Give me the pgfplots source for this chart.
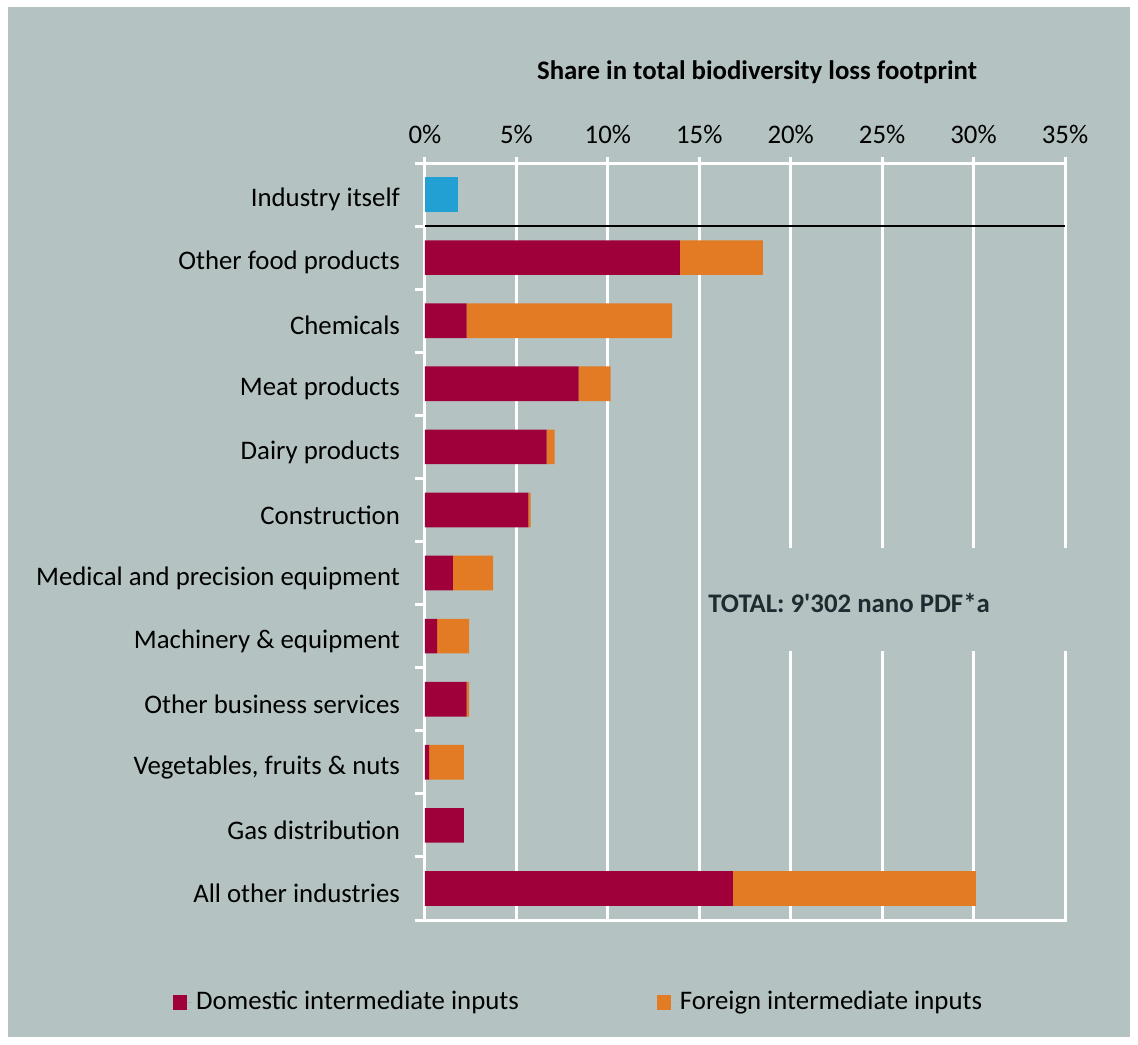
\documentclass[border=0pt]{standalone}
\usepackage{pgfplots}
\pgfplotsset{compat=1.18}
\usepackage{fontspec}
\setmainfont{Carlito}
\newfontfamily\plainfont{Carlito}[Ligatures=ResetAll]
\definecolor{bg}{HTML}{B4C3C2}
\definecolor{domestic}{HTML}{A0003A}
\definecolor{foreign}{HTML}{E37A24}
\definecolor{itself}{HTML}{22A0D3}
\definecolor{totaltext}{HTML}{1E2B30}

\begin{document}
\begin{tikzpicture}[font=\fontsize{13.4}{15}\selectfont]
% panel
\fill[white] (-212.5pt,-62pt) rectangle (356.5pt,460pt);
\fill[bg] (-208.5pt,-58.5pt) rectangle (352.5pt,456.5pt);
\begin{axis}[
  scale only axis, width=320pt, height=378.5pt,
  xbar stacked, bar width=0.55,
  y dir=reverse,
  xmin=0, xmax=35, ymin=-0.5, ymax=11.5,
  xtick={0,5,...,35},
  xticklabels={0\%,5\%,10\%,15\%,20\%,25\%,30\%,35\%},
  xticklabel pos=upper, xtick pos=upper,
  ytick={0,...,11},
  yticklabels={Industry itself, Other food products, Chemicals, Meat products,
    Dairy products, Construction, Medical and precision equipment,
    Machinery \& equipment, Other business services,
    {Vegetables, fruits \& nuts}, Gas distribution, All other industries},
  ytick pos=left,
  minor ytick={-0.5,0.5,...,11.5},
  tick align=outside,
  major tick length=3pt,
  minor tick length=5pt,
  major y tick style={draw=none},
  tick style={white, line width=1.5pt},
  axis line style={white, line width=1.5pt},
  xmajorgrids, grid style={white, line width=1.5pt},
  yticklabel style={xshift=-6pt, yshift=-2.5pt},
  xticklabel style={yshift=3pt},
  legend columns=2,
  legend style={at={(axis description cs:-0.394,-0.1083)}, anchor=west,
    draw=none, fill=none, inner sep=0pt,
    /tikz/every even column/.append style={column sep=67pt}},
  legend image code/.code={\fill[#1] (0pt,-3.75pt) rectangle (7pt,3.75pt);
    \path (0pt,0pt) -- (9.5pt,0pt);},
]
\addplot[fill=itself, draw=none, forget plot] coordinates {
  (1.8,0) (0,1) (0,2) (0,3) (0,4) (0,5) (0,6) (0,7) (0,8) (0,9) (0,10) (0,11)};
\addplot[fill=domestic, draw=none] coordinates {
  (0,0) (13.94,1) (2.28,2) (8.40,3) (6.65,4) (5.65,5) (1.53,6) (0.66,7)
  (2.28,8) (0.22,9) (2.13,10) (16.84,11)};
\addplot[fill=foreign, draw=none] coordinates {
  (0,0) (4.54,1) (11.24,2) (1.75,3) (0.44,4) (0.13,5) (2.20,6) (1.75,7)
  (0.13,8) (1.91,9) (0,10) (13.29,11)};
\legend{Domestic intermediate inputs, Foreign intermediate inputs}
\draw[black, line width=1.4pt] (axis cs:0,0.5) -- (axis cs:35,0.5);
\end{axis}
% title
\node[font=\fontsize{13.4}{15}\selectfont\bfseries] at (166pt,424pt)
  {Share in total biodiversity loss footprint};
% total annotation
\fill[bg] (139pt,134.5pt) rectangle (324pt,186pt);
\node[anchor=west, inner sep=0pt, text=totaltext,
  font=\fontsize{13.4}{15}\plainfont\selectfont\bfseries] at (141.5pt,158.5pt)
  {TOTAL: 9'302 nano PDF*a};
\end{tikzpicture}
\end{document}
